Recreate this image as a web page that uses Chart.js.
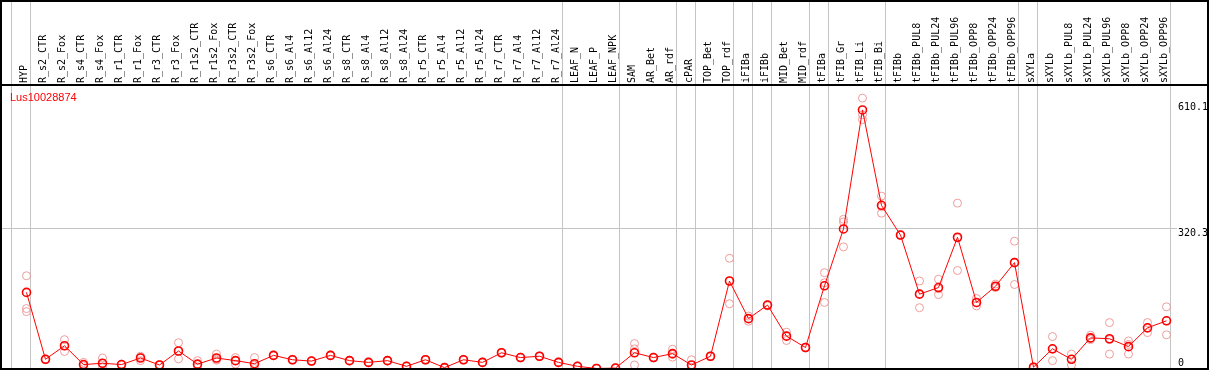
<!DOCTYPE html>
<html lang="en">
<head>
    <meta charset="UTF-8">
    <title>Lus10028874 expression</title>
    <script src="https://cdn.jsdelivr.net/npm/chart.js"></script>
    <style>
        body, html {
            margin: 0;
            padding: 0;
            background: #fff;
        }
        canvas {
            display: block;
        }
    </style>
</head>
<body>
    <canvas id="exprChart" width="1209" height="370"></canvas>
    <script>
        const geneName = 'Lus10028874';

        const categories = [
            'HYP', 'R_s2_CTR', 'R_s2_Fox', 'R_s4_CTR', 'R_s4_Fox', 'R_r1_CTR', 'R_r1_Fox',
            'R_r3_CTR', 'R_r3_Fox', 'R_r1s2_CTR', 'R_r1s2_Fox', 'R_r3s2_CTR', 'R_r3s2_Fox',
            'R_s6_CTR', 'R_s6_Al4', 'R_s6_Al12', 'R_s6_Al24', 'R_s8_CTR', 'R_s8_Al4', 'R_s8_Al12',
            'R_s8_Al24', 'R_r5_CTR', 'R_r5_Al4', 'R_r5_Al12', 'R_r5_Al24', 'R_r7_CTR', 'R_r7_Al4',
            'R_r7_Al12', 'R_r7_Al24', 'LEAF_N', 'LEAF_P', 'LEAF_NPK', 'SAM', 'AR_Bet', 'AR_rdf',
            'cPAR', 'TOP_Bet', 'TOP_rdf', 'iFIBa', 'iFIBb', 'MID_Bet', 'MID_rdf', 'tFIBa',
            'tFIB_Gr', 'tFIB_Li', 'tFIB_Bi', 'tFIBb', 'tFIBb_PUL8', 'tFIBb_PUL24', 'tFIBb_PUL96',
            'tFIBb_OPP8', 'tFIBb_OPP24', 'tFIBb_OPP96', 'sXYLa', 'sXYLb', 'sXYLb_PUL8',
            'sXYLb_PUL24', 'sXYLb_PUL96', 'sXYLb_OPP8', 'sXYLb_OPP24', 'sXYLb_OPP96'
        ];

        // mean expression per sample
        const means = [
            174, 21, 52, 9, 12, 9, 24, 8, 40, 10, 24, 18, 11,
            30, 20, 17, 30, 18, 14, 18, 5, 20, 2, 20, 14, 36, 25, 28, 14,
            5, 0, 1, 36, 25, 34, 8, 28, 200, 114, 145, 74, 48, 189,
            319, 591, 373, 305, 170, 185, 300, 151, 188, 242,
            3, 45, 21, 70, 68, 50, 93, 109
        ];

        // individual replicates
        const rep1 = [
            212, 22, 66, 14, 24, 10, 28, 9, 59, 18, 33, 25, 25,
            31, 21, 18, 31, 19, 15, 19, 6, 21, 3, 21, 15, 37, 26, 29, 15,
            6, 1, 2, 57, 26, 44, 20, 29, 252, 120, 146, 83, 49, 219,
            341, 618, 394, 306, 200, 204, 378, 160, 193, 291,
            4, 73, 33, 76, 105, 63, 105, 141
        ];
        const rep2 = [
            137, 20, 39, 7, 2, 8, 18, 7, 22, 4, 19, 10, 0,
            29, 19, 16, 29, 17, 13, 17, 4, 19, 1, 19, 13, 35, 24, 27, 13,
            4, 0, 0, 8, 24, 26, 3, 27, 148, 108, 143, 64, 47, 151,
            335, 569, 355, 304, 139, 169, 224, 143, 185, 192,
            2, 18, 8, 66, 33, 33, 82, 77
        ];
        const rep3 = [
            130, 21, 52, 6, 11, 9, 25, 8, 40, 9, 21, 18, 8,
            30, 20, 17, 30, 18, 14, 18, 5, 20, 2, 20, 14, 36, 25, 28, 14,
            5, 0, 1, 45, 25, 32, 2, 28, 200, 114, 145, 75, 48, 196,
            278, 580, 370, 305, 171, 182, 298, 150, 186, 243,
            3, 44, 21, 68, 66, 55, 92, 109
        ];

        const yTicks = [0, 320.3, 610.1];

        // sample index after which a group separator is drawn
        const groupEnds = [-1, 0, 28, 31, 34, 35, 37, 38, 39, 41, 42, 45, 52, 53, 60];

        const toPoints = arr => arr.map((v, i) => ({ x: i, y: v }));

        const repStyle = {
            showLine: false,
            pointRadius: 4,
            pointBorderWidth: 1,
            pointBorderColor: '#ee9c9c',
            pointBackgroundColor: 'rgba(0,0,0,0)',
            order: 2
        };

        const framePlugin = {
            id: 'frame',
            beforeDraw(chart) {
                const { ctx, chartArea, scales } = chart;
                ctx.save();
                ctx.strokeStyle = '#c4c4c4';
                ctx.lineWidth = 1;
                groupEnds.forEach(g => {
                    const px = Math.round(scales.x.getPixelForValue(g + 0.2)) + 0.5;
                    ctx.beginPath();
                    ctx.moveTo(px, 0);
                    ctx.lineTo(px, chartArea.bottom);
                    ctx.stroke();
                });
                ctx.restore();
            },
            afterDraw(chart) {
                const { ctx, chartArea, width, height } = chart;
                ctx.save();
                ctx.strokeStyle = '#000';
                ctx.lineWidth = 2;
                ctx.strokeRect(1, 1, width - 2, height - 2);
                ctx.beginPath();
                ctx.moveTo(0, chartArea.top);
                ctx.lineTo(width, chartArea.top);
                ctx.stroke();
                ctx.fillStyle = '#ff0000';
                ctx.font = '11px "Liberation Sans", Arial, sans-serif';
                ctx.textBaseline = 'alphabetic';
                ctx.fillText(geneName, chartArea.left + 9, chartArea.top + 16);
                ctx.restore();
            }
        };

        const chart = new Chart(document.getElementById('exprChart'), {
            type: 'line',
            data: {
                datasets: [{
                    label: 'mean',
                    data: toPoints(means),
                    borderColor: '#ff0000',
                    borderWidth: 1,
                    tension: 0,
                    pointRadius: 4,
                    pointBorderWidth: 1.6,
                    pointBorderColor: '#ff0000',
                    pointBackgroundColor: 'rgba(0,0,0,0)',
                    order: 1
                },
                Object.assign({ label: 'rep1', data: toPoints(rep1) }, repStyle),
                Object.assign({ label: 'rep2', data: toPoints(rep2) }, repStyle),
                Object.assign({ label: 'rep3', data: toPoints(rep3) }, repStyle)]
            },
            options: {
                responsive: false,
                animation: false,
                layout: {
                    autoPadding: false,
                    padding: { left: 1, right: 2, top: 1, bottom: 1.5 }
                },
                scales: {
                    x: {
                        type: 'linear',
                        position: 'top',
                        min: -1.342,
                        max: 60.553,
                        bounds: 'data',
                        grid: { display: false, drawTicks: false },
                        border: { display: false },
                        afterBuildTicks: scale => {
                            scale.ticks = categories.map((c, i) => ({ value: i }));
                        },
                        afterFit: scale => {
                            scale.height = 84;
                            scale.paddingLeft = 0;
                            scale.paddingRight = 0;
                        },
                        ticks: {
                            autoSkip: false,
                            minRotation: 90,
                            maxRotation: 90,
                            padding: 2,
                            labelOffset: 10,
                            color: '#000',
                            font: { family: 'DejaVu Sans Mono', size: 10 },
                            callback: value => categories[value]
                        }
                    },
                    y: {
                        type: 'linear',
                        position: 'right',
                        min: 0,
                        max: 648,
                        grid: {
                            drawTicks: false,
                            color: c => (c.tick && c.tick.value === 320.3 ? '#c4c4c4' : 'rgba(0,0,0,0)')
                        },
                        border: { display: false },
                        afterBuildTicks: scale => {
                            scale.ticks = yTicks.map(v => ({ value: v }));
                        },
                        afterFit: scale => {
                            scale.width = 30;
                            scale.paddingTop = 0;
                            scale.paddingBottom = 0;
                        },
                        ticks: {
                            padding: 1,
                            color: '#000',
                            font: { family: 'DejaVu Sans Mono', size: 10, lineHeight: 1.1 },
                            callback: value => (value === 0 ? ['0', ''] : ['', String(value)])
                        }
                    }
                },
                plugins: {
                    legend: { display: false },
                    tooltip: { enabled: false }
                }
            },
            plugins: [framePlugin]
        });
    </script>
</body>
</html>
